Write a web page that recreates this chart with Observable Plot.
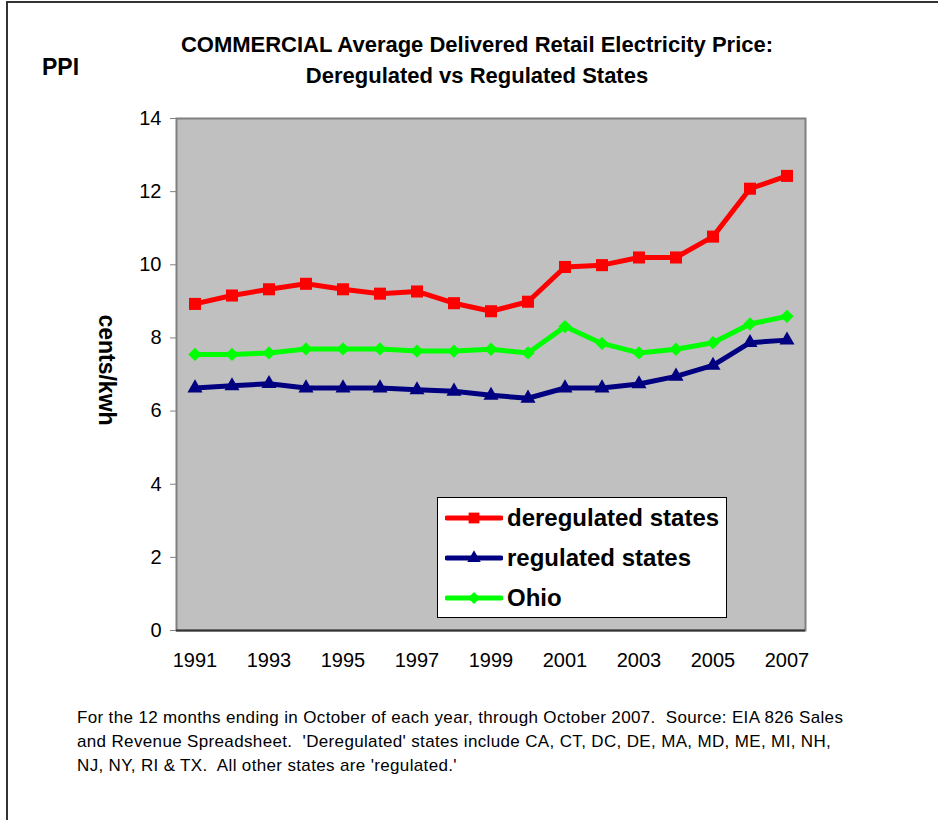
<!DOCTYPE html>
<html>
<head>
<meta charset="utf-8">
<script src="https://cdn.jsdelivr.net/npm/d3@7"></script>
<script src="https://cdn.jsdelivr.net/npm/@observablehq/plot@0.6"></script>
<style>
  html, body { margin: 0; padding: 0; background: #fff; }
  #wrap { position: relative; width: 938px; height: 820px; overflow: hidden; font-family: "Liberation Sans", Arial, sans-serif; color: #000; }
  .abs { position: absolute; }
  #title { left: 16px; width: 922px; top: 29px; text-align: center; font-weight: bold; font-size: 22px; line-height: 31px; }
  #ppi { left: 42px; top: 54px; font-weight: bold; font-size: 23px; }
  #ylabel { left: 106px; top: 370px; font-weight: bold; font-size: 23px; transform: translate(-50%, -50%) rotate(90deg); white-space: nowrap; }
  #chart { left: 0; top: 100px; }
  #caption { left: 77px; top: 706px; font-size: 17px; letter-spacing: 0.35px; line-height: 24px; white-space: nowrap; }
  #legend { left: 437px; top: 497px; width: 288px; height: 119px; background: #fff; border: 1px solid #000; }
  .row { position: absolute; left: 0; height: 40px; display: flex; align-items: center; font-weight: bold; font-size: 24px; white-space: nowrap; }
  .row svg { margin-left: 7px; margin-right: 4px; }
  #bl { left: 6px; top: 1px; width: 2px; height: 819px; background: #333; }
  #bt { left: 6px; top: 1px; width: 932px; height: 2px; background: #333; }
</style>
</head>
<body>
<div id="wrap">
  <div id="bl" class="abs"></div>
  <div id="bt" class="abs"></div>
  <div id="title" class="abs">COMMERCIAL Average Delivered Retail Electricity Price:<br>Deregulated vs Regulated States</div>
  <div id="ppi" class="abs">PPI</div>
  <div id="chart" class="abs"></div>
  <div id="ylabel" class="abs">cents/kwh</div>
  <div id="legend" class="abs"></div>
  <div id="caption" class="abs">For the 12 months ending in October of each year, through October 2007.&nbsp; Source: EIA 826 Sales<br>and Revenue Spreadsheet.&nbsp; 'Deregulated' states include CA, CT, DC, DE, MA, MD, ME, MI, NH,<br>NJ, NY, RI &amp; TX.&nbsp; All other states are 'regulated.'</div>
</div>
<script>
const years = [1991, 1992, 1993, 1994, 1995, 1996, 1997, 1998, 1999, 2000, 2001, 2002, 2003, 2004, 2005, 2006, 2007];
const deregulated = [8.93, 9.16, 9.33, 9.48, 9.33, 9.21, 9.27, 8.95, 8.73, 8.99, 9.94, 9.99, 10.20, 10.20, 10.77, 12.08, 12.43];
const regulated = [6.63, 6.69, 6.75, 6.63, 6.63, 6.63, 6.58, 6.54, 6.43, 6.35, 6.63, 6.63, 6.74, 6.95, 7.25, 7.87, 7.94];
const ohio = [7.55, 7.55, 7.59, 7.70, 7.70, 7.70, 7.64, 7.64, 7.69, 7.59, 8.31, 7.85, 7.59, 7.69, 7.87, 8.38, 8.59];
const xTicks = [1991, 1993, 1995, 1997, 1999, 2001, 2003, 2005, 2007];
const yTicks = [0, 2, 4, 6, 8, 10, 12, 14];
const seriesNames = ["deregulated states", "regulated states", "Ohio"];

const seriesStyle = [
  {name: seriesNames[0], values: deregulated, color: "#FF0000", symbol: d3.symbolSquare, r: 6.8},
  {name: seriesNames[1], values: regulated, color: "#000080", symbol: d3.symbolTriangle, r: 5.6},
  {name: seriesNames[2], values: ohio, color: "#00FF00", symbol: d3.symbolDiamond2, r: 6}
];

const marks = [
  Plot.frame({fill: "#C0C0C0"}),
  Plot.axisY({ticks: yTicks, tickSize: 6, tickPadding: 9, stroke: "#808080", label: null, fontSize: 20}),
  Plot.axisX({ticks: xTicks, tickSize: 0, tickPadding: 22, tickFormat: d => String(d), label: null, fontSize: 20}),
  Plot.frame({stroke: "#808080", strokeWidth: 2}),
  Plot.ruleY([0], {stroke: "#333333", strokeWidth: 2})
];
for (const s of seriesStyle) {
  const data = years.map((y, i) => ({year: y, value: s.values[i]}));
  marks.push(Plot.line(data, {x: "year", y: "value", stroke: s.color, strokeWidth: 5}));
  marks.push(Plot.dot(data, {x: "year", y: "value", fill: s.color, stroke: "none", symbol: s.symbol, r: s.r}));
}

const chart = Plot.plot({
  width: 938,
  height: 600,
  marginLeft: 176,
  marginRight: 133,
  marginTop: 18,
  marginBottom: 70,
  x: {domain: [1990.5, 2007.5]},
  y: {domain: [0, 14]},
  style: {fontFamily: "'Liberation Sans', Arial, sans-serif", fontSize: "20px", color: "#000", background: "transparent", overflow: "visible"},
  marks
});
document.getElementById("chart").appendChild(chart);

// legend
const legend = document.getElementById("legend");
seriesStyle.forEach((s, i) => {
  const row = document.createElement("div");
  row.className = "row";
  row.style.top = (i * 40) + "px";
  const svg = d3.create("svg").attr("width", 58).attr("height", 20);
  svg.append("line").attr("x1", 2).attr("x2", 56).attr("y1", 10).attr("y2", 10)
    .attr("stroke", s.color).attr("stroke-width", 5).attr("stroke-linecap", "round");
  svg.append("path").attr("transform", "translate(29,10)")
    .attr("d", d3.symbol(s.symbol, Math.PI * s.r * s.r * 0.8)()).attr("fill", s.color);
  row.appendChild(svg.node());
  const label = document.createElement("span");
  label.textContent = s.name;
  row.appendChild(label);
  legend.appendChild(row);
});
</script>
</body>
</html>
